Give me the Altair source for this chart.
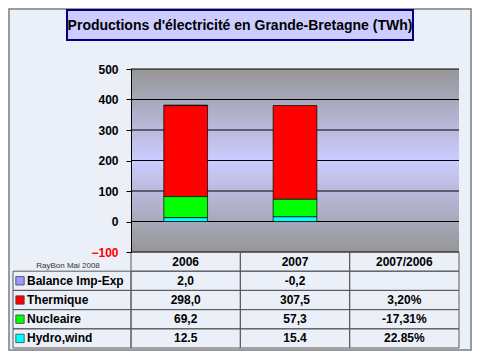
import altair as alt
import pandas as pd

# ---- data ----
years = ["2006", "2007", "2007/2006"]
series = ["Balance Imp-Exp", "Thermique", "Nucleaire", "Hydro,wind"]
colors = ["#9999ff", "#ff0000", "#00ff00", "#00ffff"]
values_2006 = [2.0, 298.0, 69.2, 12.5]
values_2007 = [-0.2, 307.5, 57.3, 15.4]
labels_2006 = ["2,0", "298,0", "69,2", "12.5"]
labels_2007 = ["-0,2", "307,5", "57,3", "15.4"]
labels_change = ["", "3,20%", "-17,31%", "22.85%"]
y_ticks = [-100, 0, 100, 200, 300, 400, 500]
title_text = "Productions d'électricité en Grande-Bretagne (TWh)"
credit_text = "RayBon Mai 2008"

FONT = "Arial, Liberation Sans"
W, H = 328, 279
BAR_H = 183

bars_df = pd.DataFrame(
    [{"year": "2006", "series": s, "value": v, "order": 3 - i} for i, (s, v) in enumerate(zip(series, values_2006))]
    + [{"year": "2007", "series": s, "value": v, "order": 3 - i} for i, (s, v) in enumerate(zip(series, values_2007))]
)
rows = ["header"] + series
cells_df = pd.DataFrame([{"row": r, "col": c} for r in rows for c in years])
label_cells_df = pd.DataFrame({"row": series})
texts = [{"row": "header", "col": c, "text": c} for c in years]
for i, s in enumerate(series):
    for c, lab in zip(years, [labels_2006[i], labels_2007[i], labels_change[i]]):
        if lab:
            texts.append({"row": s, "col": c, "text": lab})
texts_df = pd.DataFrame(texts)
ticks_df = pd.DataFrame({"v": y_ticks})
one = pd.DataFrame({"k": [0]})

xscale = alt.Scale(domain=years, paddingInner=0, paddingOuter=0)
yscale = alt.Scale(domain=[-100, 500], range=[BAR_H, 0], nice=False, zero=False)
tscale = alt.Scale(domain=rows, range=[BAR_H, H], paddingInner=0, paddingOuter=0)
cscale = alt.Scale(domain=series, range=colors)

grad = alt.LinearGradient(
    gradient="linear", x1=0, y1=0, x2=0, y2=1,
    stops=[alt.GradientStop(color="#969696", offset=0),
           alt.GradientStop(color="#ccccff", offset=0.5),
           alt.GradientStop(color="#969696", offset=1)],
)

bg = alt.Chart(one).mark_rect(color=grad).encode(
    x=alt.value(0), x2=alt.value(W),
    y=alt.Y(datum=500, type="quantitative", scale=yscale, axis=None),
    y2=alt.Y2(datum=-100),
)

grid = alt.Chart(ticks_df).mark_rule(color="#000000", strokeWidth=1).encode(
    x=alt.value(0), x2=alt.value(W),
    y=alt.Y("v:Q", scale=yscale, axis=alt.Axis(
        values=y_ticks, grid=False, title=None, domainColor="#000000", domainWidth=1,
        tickColor="#000000", tickSize=5, labelFont=FONT, labelFontSize=12,
        labelFontWeight="bold", labelPadding=8, zindex=1,
        labelColor={"expr": "datum.value < 0 ? '#ff0000' : '#000000'"})),
)

bars = alt.Chart(bars_df).mark_bar(width=alt.RelativeBandSize(band=0.4), stroke="#000000", strokeWidth=0.7).encode(
    x=alt.X("year:N", scale=xscale, axis=None),
    y=alt.Y("value:Q", scale=yscale, axis=None, stack="zero"),
    color=alt.Color("series:N", scale=cscale, legend=None),
    order=alt.Order("order:Q"),
)

cells = alt.Chart(cells_df).mark_rect(fill="transparent", stroke="#5a5a5a", strokeWidth=1).encode(
    x=alt.X("col:N", scale=xscale, axis=None),
    y=alt.Y("row:N", scale=tscale, axis=None),
)
label_cells = alt.Chart(label_cells_df).mark_rect(fill="transparent", stroke="#5a5a5a", strokeWidth=1).encode(
    x=alt.value(-118), x2=alt.value(0),
    y=alt.Y("row:N", scale=tscale, axis=None),
)
cell_text = alt.Chart(texts_df).mark_text(font=FONT, fontSize=12, fontWeight="bold", color="#000000", baseline="middle").encode(
    x=alt.X("col:N", scale=xscale, axis=None),
    y=alt.Y("row:N", scale=tscale, axis=None),
    text="text:N",
)
swatches = alt.Chart(label_cells_df).mark_square(size=70, opacity=1, stroke="#404040", strokeWidth=0.8).encode(
    x=alt.value(-111),
    y=alt.Y("row:N", scale=tscale, axis=None),
    color=alt.Color("row:N", scale=cscale, legend=None),
)
label_text = alt.Chart(label_cells_df).mark_text(font=FONT, fontSize=12, fontWeight="bold", color="#000000", align="left", baseline="middle").encode(
    x=alt.value(-104),
    y=alt.Y("row:N", scale=tscale, axis=None),
    text="row:N",
)

title_box = alt.Chart(one).mark_rect(fill="#ccccff", stroke="#000080", strokeWidth=2).encode(
    x=alt.value(-64), x2=alt.value(282), y=alt.value(-59), y2=alt.value(-29),
)
title = alt.Chart(one).mark_text(text=title_text, font=FONT, fontSize=14, fontWeight="bold", color="#000000", baseline="middle").encode(
    x=alt.value(109), y=alt.value(-43.5),
)
credit = alt.Chart(one).mark_text(text=credit_text, font=FONT, fontSize=8, color="#333333", baseline="middle").encode(
    x=alt.value(-63), y=alt.value(197),
)
frame = alt.Chart(one).mark_rect(fill="transparent", stroke="#808080", strokeWidth=1.5).encode(
    x=alt.value(-122), x2=alt.value(340), y=alt.value(-60), y2=alt.value(281),
)

chart = alt.layer(
    frame, title_box, title, bg, grid, bars, cells, label_cells, cell_text, swatches, label_text, credit
).resolve_scale(y="independent").properties(
    width=W, height=H,
    padding={"left": 123, "top": 61, "right": 13, "bottom": 3},
    autosize=alt.AutoSizeParams(type="none"),
    background="#eaeff8",
).configure_view(stroke=None)

chart.save("out.html", embed_options={"renderer": "svg", "actions": False})
